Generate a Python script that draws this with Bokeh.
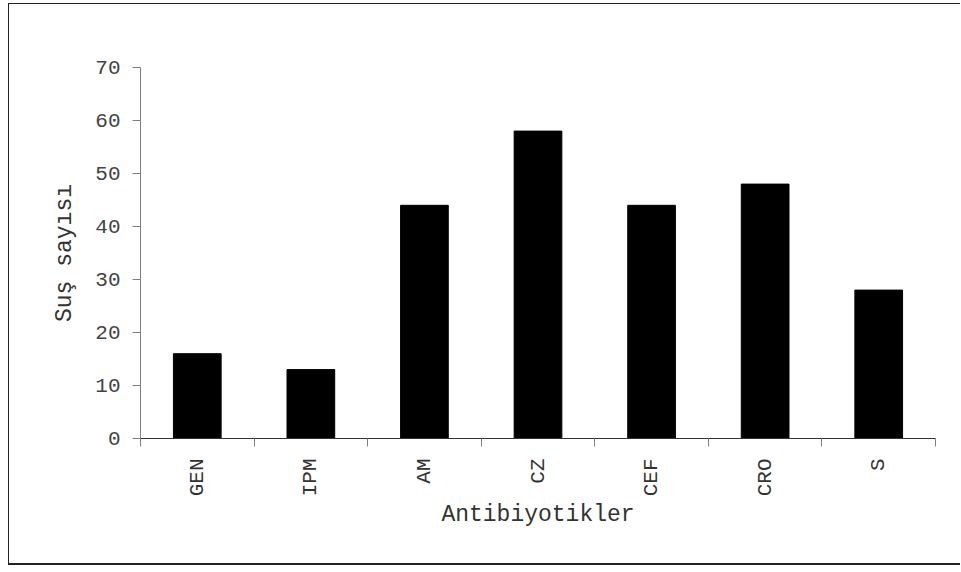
from bokeh.plotting import figure
from bokeh.models import FixedTicker, ColumnDataSource, Range1d
from bokeh.embed import file_html
from bokeh.resources import INLINE
import math

categories = ["GEN", "IPM", "AM", "CZ", "CEF", "CRO", "S"]
values = [16, 13, 44, 58, 44, 48, 28]
y_ticks = [0, 10, 20, 30, 40, 50, 60, 70]

centers = [i + 0.5 for i in range(len(categories))]
boundaries = list(range(len(categories) + 1))

src = ColumnDataSource(dict(x=centers, top=values))

FONT = "Liberation Mono"

p = figure(width=952, height=562, output_backend="svg", toolbar_location=None,
           x_range=Range1d(0, len(categories)), y_range=Range1d(0, 70),
           min_border_left=131, min_border_right=26, min_border_top=63, min_border_bottom=128)
p.styles = {"margin-top": "3px", "margin-left": "8px",
            "border-left": "1px solid #222", "border-top": "1px solid #222",
            "border-bottom": "2px solid #222"}
p.outline_line_color = None
p.grid.visible = False

p.vbar(x="x", top="top", width=0.42, bottom=0, source=src, fill_color="black", line_color="black")

xa = p.xaxis[0]
xa.ticker = FixedTicker(ticks=centers, minor_ticks=boundaries)
xa.major_label_overrides = {c: n for c, n in zip(centers, categories)}
xa.major_tick_line_color = None
xa.minor_tick_line_color = "#808080"
xa.minor_tick_out = 8
xa.minor_tick_in = 0
xa.axis_line_color = "#333333"
xa.major_label_orientation = math.pi / 2
xa.major_label_text_font = FONT
xa.major_label_text_font_size = "21px"
xa.major_label_text_color = "#333333"
xa.major_label_standoff = 12
xa.axis_label = "Antibiyotikler"
xa.axis_label_text_font = FONT
xa.axis_label_text_font_size = "23px"
xa.axis_label_text_font_style = "normal"
xa.axis_label_text_color = "#333333"
xa.axis_label_standoff = 3

ya = p.yaxis[0]
ya.ticker = FixedTicker(ticks=y_ticks)
ya.minor_tick_line_color = None
ya.major_tick_line_color = "#808080"
ya.major_tick_out = 8
ya.major_tick_in = 0
ya.axis_line_color = "#808080"
ya.major_label_text_font = FONT
ya.major_label_text_font_size = "21px"
ya.major_label_text_color = "#444444"
ya.major_label_standoff = 12
ya.axis_label = "Suş sayısı"
ya.axis_label_text_font = FONT
ya.axis_label_text_font_size = "23px"
ya.axis_label_text_font_style = "normal"
ya.axis_label_text_color = "#333333"
ya.axis_label_standoff = 14

open("out.html", "w").write(file_html(p, INLINE))
